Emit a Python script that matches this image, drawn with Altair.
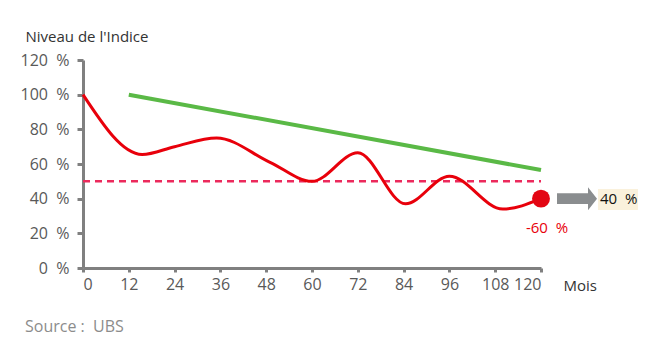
import altair as alt
import pandas as pd

# Red index path (months, %)
index_months = [0, 15.5, 24, 35, 49, 60, 72, 84.5, 96, 110, 120]
index_values = [100, 65.5, 70, 75, 61, 50, 66.5, 37, 53, 34, 40]

# Green line
green_months = [12, 120]
green_values = [100, 56.5]

# Barrier (dashed)
barrier_months = [0, 120]
barrier_values = [50, 50]

final_month = [120]
final_value = [40]
final_label = ["-60\u00a0\u00a0%"]
payout_label = ["40\u00a0\u00a0%"]
source_text = "Source\u00a0:\u00a0\u00a0UBS"

x_ticks = [0, 12, 24, 36, 48, 60, 72, 84, 96, 108, 120]
y_ticks = [0, 20, 40, 60, 80, 100, 120]

FONT = "Open Sans"
W, H = 458, 208

df_idx = pd.DataFrame({"m": index_months, "v": index_values})
df_g = pd.DataFrame({"m": green_months, "v": green_values})
df_b = pd.DataFrame({"m": barrier_months, "v": barrier_values})
df_f = pd.DataFrame({"m": final_month, "v": final_value, "lab": final_label, "pay": payout_label})

xscale = alt.Scale(domain=[0, 120], nice=False, zero=False)
yscale = alt.Scale(domain=[0, 120], nice=False)

xax = alt.Axis(values=x_ticks, tickCount=20, title="Mois", titleAngle=0, titleAnchor="start",
               titleX=W + 22, titleY=17, titleBaseline="middle", titleFontWeight="normal",
               titleFont=FONT, titleFontSize=15, titleColor="#333333",
               labelFont=FONT, labelFontSize=16, labelColor="#595959", labelPadding=4,
               labelOverlap=False,
               domainColor="#808080", domainWidth=3, tickColor="#808080", tickWidth=3,
               tickSize=4, grid=False)
yax = alt.Axis(values=y_ticks, tickCount=20, title="Niveau de l'Indice", titleAngle=0, titleAlign="left",
               titleX=-58, titleY=-24, titleBaseline="middle", titleFontWeight="normal",
               titleFont=FONT, titleFontSize=15, titleColor="#333333",
               labelExpr="datum.value + '\u00a0\u00a0%'", labelOverlap=False,
               labelFont=FONT, labelFontSize=16, labelColor="#595959", labelPadding=8,
               domainColor="#808080", domainWidth=3, tickColor="#808080", tickWidth=3,
               tickSize=6, grid=False)

base_x = alt.X("m:Q", scale=xscale, axis=xax)
base_y = alt.Y("v:Q", scale=yscale, axis=yax)

green = alt.Chart(df_g).mark_line(color="#5ab946", strokeWidth=4).encode(x=base_x, y=base_y)
barrier = alt.Chart(df_b).mark_line(color="#ec2a5c", strokeWidth=2.5, strokeDash=[7, 5]).encode(
    x=alt.X("m:Q", scale=xscale), y=alt.Y("v:Q", scale=yscale))
red = alt.Chart(df_idx).mark_line(color="#e8000b", strokeWidth=3, interpolate="monotone").encode(
    x=alt.X("m:Q", scale=xscale), y=alt.Y("v:Q", scale=yscale))
pt = alt.Chart(df_f).mark_point(filled=True, color="#e30613", size=320, opacity=1, shape="circle").encode(
    x=alt.X("m:Q", scale=xscale), y=alt.Y("v:Q", scale=yscale))
lab = alt.Chart(df_f).mark_text(color="#e8000b", font=FONT, fontSize=15, dy=29, dx=6).encode(
    x=alt.X("m:Q", scale=xscale), y=alt.Y("v:Q", scale=yscale), text="lab:N")

arrow_path = "M-1,-0.27 L0.55,-0.27 L0.55,-0.575 L1,0 L0.55,0.575 L0.55,0.27 L-1,0.27 Z"
arrow = alt.Chart(df_f).mark_point(filled=True, color="#8a8d8f", opacity=1, size=1600,
                                   shape=arrow_path, strokeWidth=0).encode(
    x=alt.value(494), y=alt.Y("v:Q", scale=yscale))
bg = alt.Chart(df_f).mark_rect(color="#faf1dc").encode(
    x=alt.value(515), x2=alt.value(555), y=alt.value(129), y2=alt.value(150))
pay = alt.Chart(df_f).mark_text(color="#111111", font=FONT, fontSize=15, align="left").encode(
    x=alt.value(517), y=alt.Y("v:Q", scale=yscale), text="pay:N")
src = alt.Chart(df_f).mark_text(color="#8c8c8c", font=FONT, fontSize=16, align="left",
                                baseline="middle").encode(
    x=alt.value(-58), y=alt.value(267), text=alt.value(source_text))

chart = alt.layer(green, barrier, red, pt, lab, arrow, bg, pay, src).properties(
    width=W, height=H,
    autosize=alt.AutoSizeParams(type="none"),
    padding={"left": 83, "top": 60, "right": 105, "bottom": 85},
).configure_view(stroke=None)

chart.save("out.html", embed_options={"renderer": "svg", "actions": False})
